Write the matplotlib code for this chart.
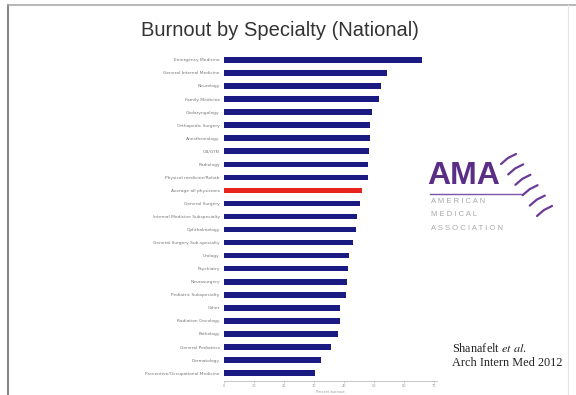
import matplotlib.pyplot as plt
import numpy as np
from matplotlib.lines import Line2D

specialties = ["Emergency Medicine", "General Internal Medicine", "Neurology",
               "Family Medicine", "Otolaryngology", "Orthopedic Surgery",
               "Anesthesiology", "OB/GYN", "Radiology",
               "Physical medicine/Rehab", "Average all physicians",
               "General Surgery", "Internal Medicine Subspecialty",
               "Ophthalmology", "General Surgery Sub-specialty", "Urology",
               "Psychiatry", "Neurosurgery", "Pediatric Subspecialty", "Other",
               "Radiation Oncology", "Pathology", "General Pediatrics",
               "Dermatology", "Preventive/Occupational Medicine"]
burnout = [65.9, 54.2, 52.2, 51.7, 49.4, 48.7, 48.7, 48.4, 48.1, 47.9, 46.1,
           45.3, 44.3, 44.0, 42.9, 41.8, 41.4, 40.9, 40.7, 38.7, 38.7, 38.1,
           35.7, 32.3, 30.3]
highlight = "Average all physicians"
xticks = [0, 10, 20, 30, 40, 50, 60, 70]

plt.rcParams['mathtext.fontset'] = 'stix'

W, H = 576, 395
fig = plt.figure(figsize=(W / 100, H / 100), dpi=100)
fig.patch.set_facecolor('white')

def fx(px):
    return px / W

def fy(py):
    return 1 - py / H

ax = fig.add_axes([fx(224), fy(381), fx(437) - fx(224), fy(52) - fy(381)])
y = np.arange(len(specialties))[::-1]
colors = ['#e8221c' if s == highlight else '#1a1a82' for s in specialties]
ax.barh(y, burnout, height=0.42, color=colors)
ax.set_xlim(0, 71)
ax.set_ylim(-0.6, len(specialties) - 0.4)
ax.set_yticks(y)
ax.set_yticklabels(specialties, fontsize=3.2, color='#777777')
ax.tick_params(axis='y', length=0, pad=3)
ax.set_xticks(xticks)
ax.set_xticklabels([str(t) for t in xticks], fontsize=2.5, color='#999999')
ax.tick_params(axis='x', length=1.5, width=0.4, color='#aaaaaa', pad=1)
for s in ['top', 'right', 'left']:
    ax.spines[s].set_visible(False)
ax.spines['bottom'].set_color('#bbbbbb')
ax.spines['bottom'].set_linewidth(0.6)
ax.set_xlabel('Percent burnout', fontsize=2.5, color='#999999', labelpad=1)

# title
fig.text(fx(280), fy(30), 'Burnout by Specialty (National)', ha='center', va='center',
         fontsize=14.5, color='#333333', family='Liberation Sans')

# AMA logo
fig.text(fx(427), fy(176), 'AMA', ha='left', va='center', fontsize=23,
         fontweight='bold', color='#5a2d87', family='Liberation Sans')
fig.add_artist(Line2D([fx(430), fx(522)], [fy(194), fy(194)], color='#7a55a8', lw=1))
for i, word in enumerate(['AMERICAN', 'MEDICAL', 'ASSOCIATION']):
    fig.text(fx(431), fy(202 + 13 * i), ' '.join(word), ha='left', va='center',
             fontsize=5.5, color='#a8a8a8', family='Liberation Sans')
# helix
t = np.linspace(0, 1, 6)
for k in t:
    cx, cy = 508 + 36 * k, 160 + 52 * k
    fig.add_artist(Line2D([fx(cx - 7), fx(cx), fx(cx + 8)],
                          [fy(cy + 4), fy(cy - 2), fy(cy - 6)],
                          color='#6a3c98', lw=1.6, solid_capstyle='round'))

# citation
fig.text(fx(452), fy(348), 'Shanafelt $\\it{et\\ al.}$', ha='left', va='center',
         fontsize=8.8, color='#222222', family='Liberation Serif')
fig.text(fx(452), fy(363), 'Arch Intern Med 2012', ha='left', va='center',
         fontsize=8.8, color='#222222', family='Liberation Serif')

# slide frame
fig.add_artist(Line2D([fx(8), fx(8)], [fy(5), fy(395)], color='#888888', lw=1.5))
fig.add_artist(Line2D([fx(8), fx(576)], [fy(5), fy(5)], color='#aaaaaa', lw=1.2))
fig.add_artist(Line2D([fx(568), fx(568)], [fy(5), fy(395)], color='#e4e4e4', lw=0.8))

fig.savefig('out.png', dpi=100)
